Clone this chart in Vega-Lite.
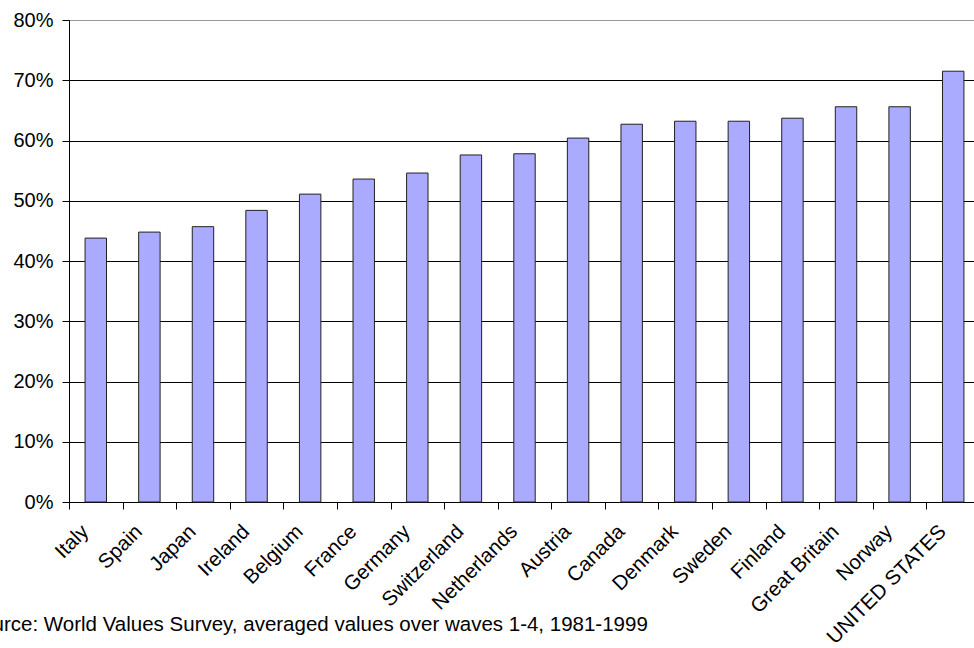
{
  "$schema": "https://vega.github.io/schema/vega-lite/v6.json",
  "width": 905,
  "height": 482,
  "autosize": {"type": "none"},
  "padding": {"left": 69, "top": 20, "right": 0, "bottom": 146},
  "background": "white",
  "config": {
    "view": {"stroke": null},
    "font": "Liberation Sans"
  },
  "data": {
    "values": [
      {"country": "Italy", "value": 0.438},
      {"country": "Spain", "value": 0.448},
      {"country": "Japan", "value": 0.457},
      {"country": "Ireland", "value": 0.484},
      {"country": "Belgium", "value": 0.511},
      {"country": "France", "value": 0.536},
      {"country": "Germany", "value": 0.546},
      {"country": "Switzerland", "value": 0.576},
      {"country": "Netherlands", "value": 0.578},
      {"country": "Austria", "value": 0.604},
      {"country": "Canada", "value": 0.627},
      {"country": "Denmark", "value": 0.632},
      {"country": "Sweden", "value": 0.632},
      {"country": "Finland", "value": 0.637},
      {"country": "Great Britain", "value": 0.656},
      {"country": "Norway", "value": 0.656},
      {"country": "UNITED STATES", "value": 0.715}
    ]
  },
  "mark": {"type": "bar", "color": "#aaaaff", "stroke": "#222222", "strokeWidth": 1},
  "encoding": {
    "x": {
      "field": "country",
      "type": "nominal",
      "sort": null,
      "scale": {"range": [0, 911], "paddingInner": 0.6, "paddingOuter": 0.3},
      "axis": {
        "title": "Source: World Values Survey, averaged values over waves 1-4, 1981-1999",
        "titleX": -102,
        "titleY": 128,
        "titleAlign": "left",
        "titleAnchor": null,
        "titleBaseline": "alphabetic",
        "titleFont": "Liberation Sans",
        "titleFontSize": 20.5,
        "titleFontWeight": "normal",
        "titleColor": "black",
        "labelAngle": -45,
        "labelAlign": "right",
        "labelBaseline": "top",
        "labelFontSize": 20.5,
        "labelColor": "black",
        "labelPadding": 12,
        "labelOffset": 9,
        "tickOffset": -26.8,
        "tickSize": 7,
        "tickColor": "black",
        "domainColor": "black",
        "grid": false
      }
    },
    "y": {
      "field": "value",
      "type": "quantitative",
      "scale": {"domain": [0, 0.8]},
      "axis": {
        "title": null,
        "format": ".0%",
        "values": [0, 0.1, 0.2, 0.3, 0.4, 0.5, 0.6, 0.7, 0.8],
        "labelFontSize": 20,
        "labelColor": "black",
        "labelPadding": 9,
        "tickSize": 7,
        "tickColor": "black",
        "domainColor": "black",
        "grid": true,
        "gridColor": {"condition": {"test": "datum.value >= 0.8", "value": "#999999"}, "value": "black"},
        "gridOpacity": 1
      }
    }
  }
}
